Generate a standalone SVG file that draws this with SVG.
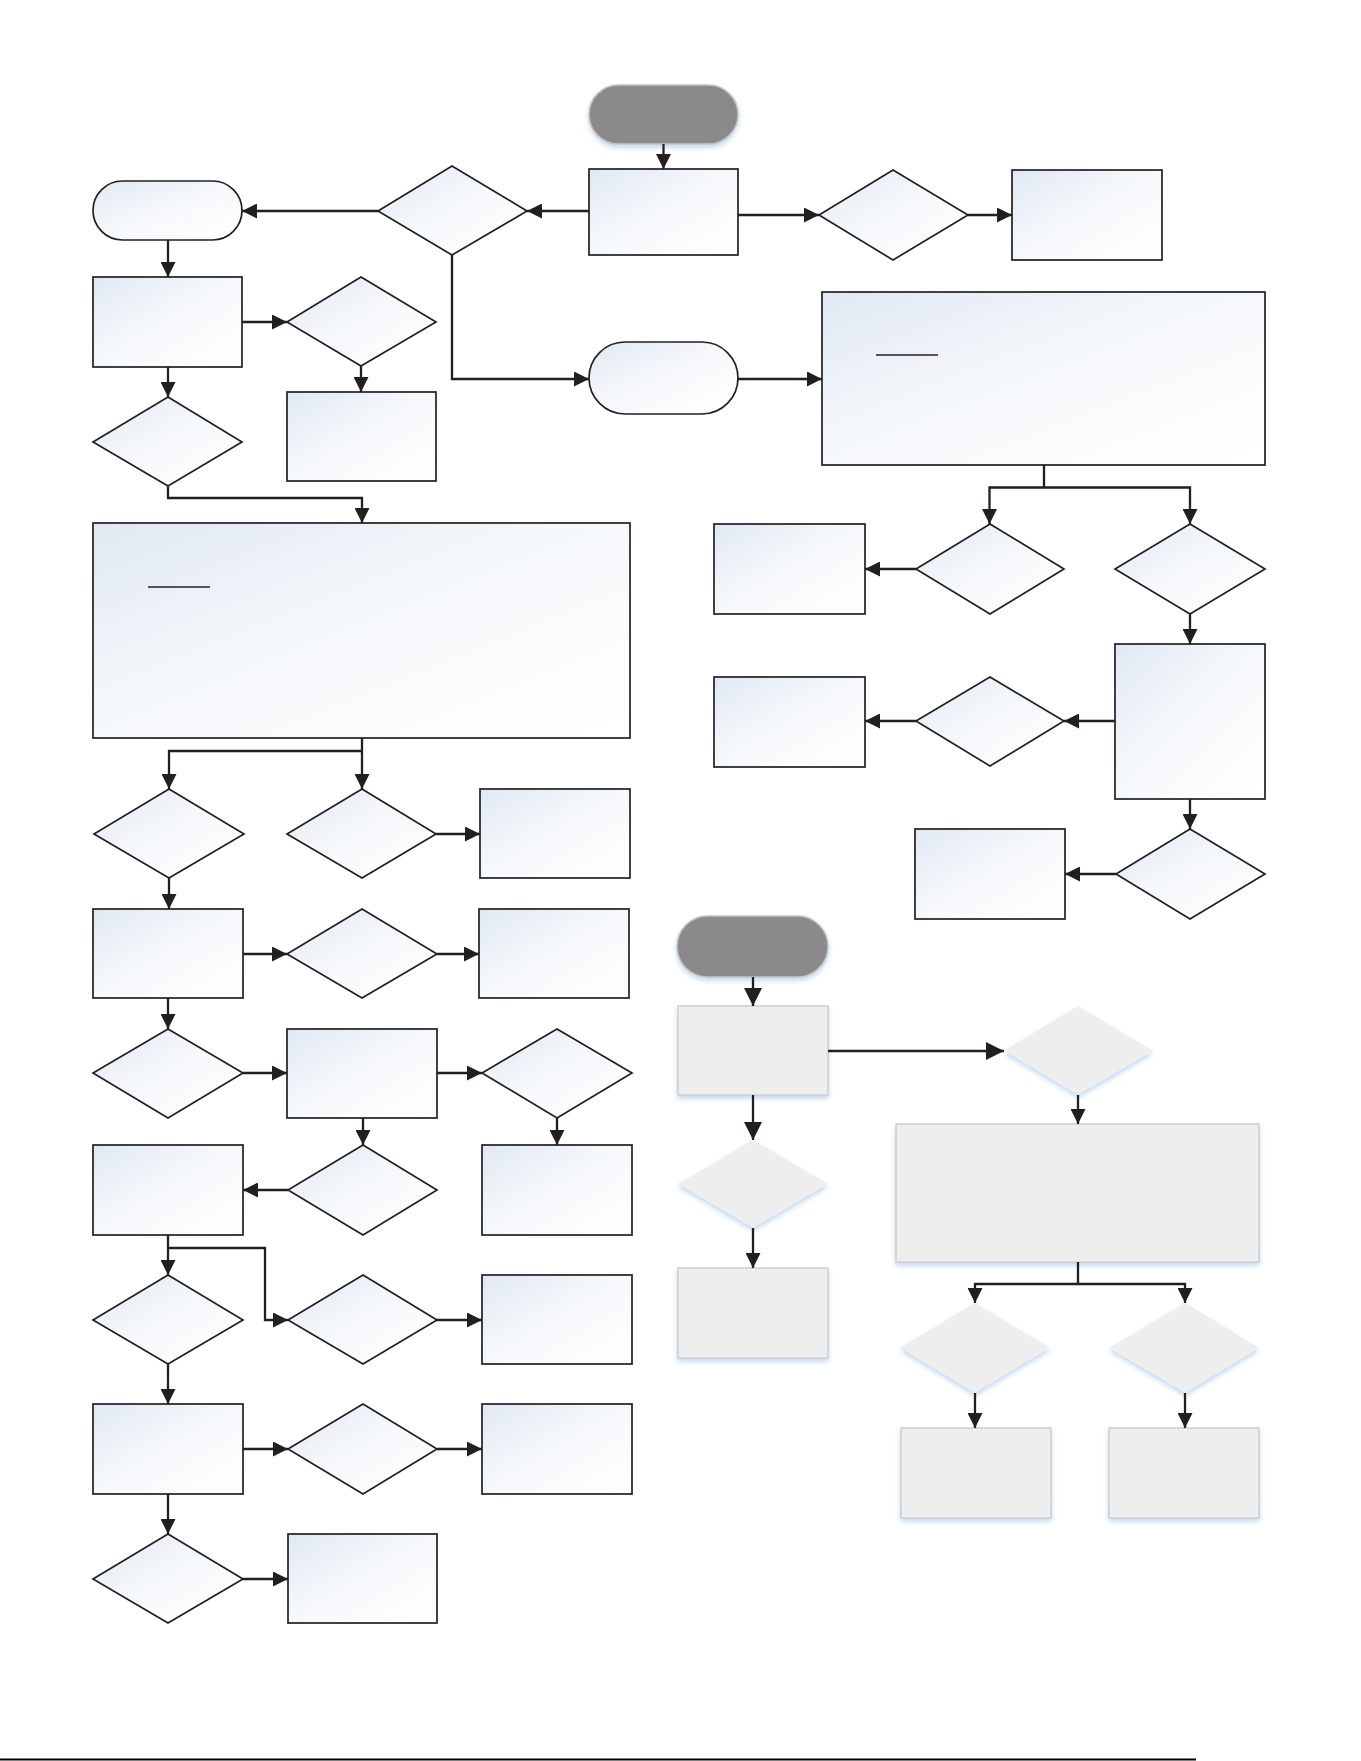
<svg xmlns="http://www.w3.org/2000/svg" width="1361" height="1761" viewBox="0 0 1361 1761">
<defs>
<linearGradient id="gf" x1="0" y1="0" x2="1" y2="1">
<stop offset="0" stop-color="#e1e8f3"/>
<stop offset="0.45" stop-color="#f5f8fb"/>
<stop offset="1" stop-color="#ffffff"/>
</linearGradient>
<filter id="sh" x="-20%" y="-20%" width="140%" height="150%">
<feDropShadow dx="0" dy="3" stdDeviation="2.5" flood-color="#b7d2ee" flood-opacity="0.85"/>
</filter>
<marker id="a" markerUnits="userSpaceOnUse" markerWidth="15" markerHeight="15" refX="15" refY="7.5" orient="auto">
<path d="M0,0 L15,7.5 L0,15 z" fill="#231f20"/>
</marker>
<marker id="b" markerUnits="userSpaceOnUse" markerWidth="18" markerHeight="18" refX="18" refY="9" orient="auto">
<path d="M0,0 L18,9 L0,18 z" fill="#231f20"/>
</marker>
<style>
.n{fill:url(#gf);stroke:#231f20;stroke-width:1.7}
.g{fill:#eeeeee;stroke:#d0d0d0;stroke-width:1.5;filter:url(#sh)}
.gd{fill:#eeeeee;stroke:none;filter:url(#sh)}
.t{fill:#8b898a;stroke:#c4c4c4;stroke-width:1.5;filter:url(#sh)}
.c{fill:none;stroke:#231f20;stroke-width:2.3;marker-end:url(#a)}
.cb{fill:none;stroke:#231f20;stroke-width:2.3;marker-end:url(#b)}
.p{fill:none;stroke:#231f20;stroke-width:2.3}
.u{stroke:#231f20;stroke-width:1.5}
</style>
</defs>

<g id="T1"><rect class="t" x="589" y="85" width="149" height="59" rx="29.5"/></g>
<g id="R1"><rect class="n" x="589" y="169" width="149" height="86"/></g>
<g id="D1"><polygon class="n" points="452,166 527,211 452,255 378,211"/></g>
<g id="T2"><rect class="n" x="93" y="181" width="149" height="59" rx="29.5"/></g>
<g id="R2"><rect class="n" x="93" y="277" width="149" height="90"/></g>
<g id="D2"><polygon class="n" points="361,277 436,322 361,366 287,322"/></g>
<g id="R3"><rect class="n" x="287" y="392" width="149" height="89"/></g>
<g id="D3"><polygon class="n" points="168,397 242,442 168,486 93,442"/></g>
<g id="D4"><polygon class="n" points="893,170 968,215 893,260 819,215"/></g>
<g id="R4"><rect class="n" x="1012" y="170" width="150" height="90"/></g>
<g id="T3"><rect class="n" x="589" y="342" width="149" height="72" rx="36"/></g>
<g id="BR1"><rect class="n" x="822" y="292" width="443" height="173"/><line class="u" x1="876" y1="355" x2="938" y2="355"/></g>
<g id="BR2"><rect class="n" x="93" y="523" width="537" height="215"/><line class="u" x1="148" y1="587" x2="210" y2="587"/></g>

<g id="D5"><polygon class="n" points="990,524 1064,569 990,614 916,569"/></g>
<g id="D6"><polygon class="n" points="1190,524 1265,569 1190,614 1115,569"/></g>
<g id="R5"><rect class="n" x="714" y="524" width="151" height="90"/></g>
<g id="R6"><rect class="n" x="1115" y="644" width="150" height="155"/></g>
<g id="D7"><polygon class="n" points="990,677 1064,721 990,766 916,721"/></g>
<g id="R7"><rect class="n" x="714" y="677" width="151" height="90"/></g>
<g id="D8"><polygon class="n" points="1190,829 1265,874 1190,919 1116,874"/></g>
<g id="R8"><rect class="n" x="915" y="829" width="150" height="90"/></g>

<g id="D13"><polygon class="n" points="169,789 244,834 169,878 94,834"/></g>
<g id="D14"><polygon class="n" points="362,789 436,834 362,878 287,834"/></g>
<g id="R13"><rect class="n" x="480" y="789" width="150" height="89"/></g>
<g id="R14"><rect class="n" x="93" y="909" width="150" height="89"/></g>
<g id="D15"><polygon class="n" points="362,909 437,954 362,998 287,954"/></g>
<g id="R15"><rect class="n" x="479" y="909" width="150" height="89"/></g>
<g id="D16"><polygon class="n" points="168,1029 243,1073 168,1118 93,1073"/></g>
<g id="R16"><rect class="n" x="287" y="1029" width="150" height="89"/></g>
<g id="D17"><polygon class="n" points="557,1029 632,1073 557,1118 482,1073"/></g>
<g id="R17"><rect class="n" x="93" y="1145" width="150" height="90"/></g>
<g id="D18"><polygon class="n" points="363,1145 437,1190 363,1235 288,1190"/></g>
<g id="R18"><rect class="n" x="482" y="1145" width="150" height="90"/></g>
<g id="D19"><polygon class="n" points="168,1275 243,1320 168,1364 93,1320"/></g>
<g id="D20"><polygon class="n" points="363,1275 437,1320 363,1364 288,1320"/></g>
<g id="R19"><rect class="n" x="482" y="1275" width="150" height="89"/></g>
<g id="R20"><rect class="n" x="93" y="1404" width="150" height="90"/></g>
<g id="D21"><polygon class="n" points="363,1404 437,1449 363,1494 288,1449"/></g>
<g id="R21"><rect class="n" x="482" y="1404" width="150" height="90"/></g>
<g id="D22"><polygon class="n" points="168,1534 243,1579 168,1623 93,1579"/></g>
<g id="R22"><rect class="n" x="288" y="1534" width="149" height="89"/></g>

<g id="T4"><rect class="t" x="677" y="916" width="151" height="61" rx="30.5"/></g>
<g id="R9"><rect class="g" x="678" y="1006" width="150" height="89"/></g>
<g id="D9"><polygon class="gd" points="1078,1006 1153,1051 1078,1095 1004,1051"/></g>
<g id="D10"><polygon class="gd" points="753,1140 828,1184 753,1228 678,1184"/></g>
<g id="R10"><rect class="g" x="678" y="1268" width="150" height="90"/></g>
<g id="BR3"><rect class="g" x="896" y="1124" width="363" height="138"/></g>
<g id="D11"><polygon class="gd" points="975,1303 1050,1348 975,1393 900,1348"/></g>
<g id="D12"><polygon class="gd" points="1185,1303 1259,1348 1185,1393 1109,1348"/></g>
<g id="R11"><rect class="g" x="901" y="1428" width="150" height="90"/></g>
<g id="R12"><rect class="g" x="1109" y="1428" width="150" height="90"/></g>

<g id="connectors">
<path class="c" d="M663.5,144 V169"/>
<path class="c" d="M589,211 H527"/>
<path class="c" d="M378,211 H242"/>
<path class="c" d="M168,240 V277"/>
<path class="c" d="M242,322 H287"/>
<path class="c" d="M361,366 V392"/>
<path class="c" d="M168,367 V397"/>
<path class="c" d="M168,486 V498 H362 V523"/>
<path class="c" d="M452,255 V379 H589"/>
<path class="c" d="M738,215 H819"/>
<path class="c" d="M968,215 H1012"/>
<path class="c" d="M738,379 H822"/>
<path class="p" d="M1044,465 V487.5"/>
<path class="c" d="M1044,487.5 H989.5 V524"/>
<path class="c" d="M1044,487.5 H1190 V524"/>
<path class="c" d="M916,569 H865"/>
<path class="c" d="M1190,614 V644"/>
<path class="c" d="M1115,721 H1064"/>
<path class="c" d="M916,721 H865"/>
<path class="c" d="M1190,799 V829"/>
<path class="c" d="M1116,874 H1065"/>

<path class="p" d="M362,738 V751"/>
<path class="c" d="M362,751 H169 V789"/>
<path class="c" d="M362,751 V789"/>
<path class="c" d="M436,834 H480"/>
<path class="c" d="M169,878 V909"/>
<path class="c" d="M243,954 H287"/>
<path class="c" d="M437,954 H479"/>
<path class="c" d="M168,998 V1029"/>
<path class="c" d="M243,1073 H287"/>
<path class="c" d="M437,1073 H482"/>
<path class="c" d="M363,1118 V1145"/>
<path class="c" d="M557,1118 V1145"/>
<path class="c" d="M288,1190 H243"/>
<path class="c" d="M168,1235 V1275"/>
<path class="c" d="M168,1248 H265 V1320 H288"/>
<path class="c" d="M437,1320 H482"/>
<path class="c" d="M168,1364 V1404"/>
<path class="c" d="M243,1449 H288"/>
<path class="c" d="M437,1449 H482"/>
<path class="c" d="M168,1494 V1534"/>
<path class="c" d="M243,1579 H288"/>

<path class="cb" d="M753,977 V1006"/>
<path class="cb" d="M828,1051 H1004"/>
<path class="cb" d="M753,1095 V1140"/>
<path class="c" d="M1078,1095 V1124"/>
<path class="c" d="M753,1228 V1268"/>
<path class="p" d="M1078,1262 V1284"/>
<path class="c" d="M1078,1284 H975 V1303"/>
<path class="c" d="M1078,1284 H1185 V1303"/>
<path class="c" d="M975,1393 V1428"/>
<path class="c" d="M1185,1393 V1428"/>
</g>

<line x1="0" y1="1759.5" x2="1196" y2="1759.5" stroke="#000" stroke-width="2"/>
</svg>
